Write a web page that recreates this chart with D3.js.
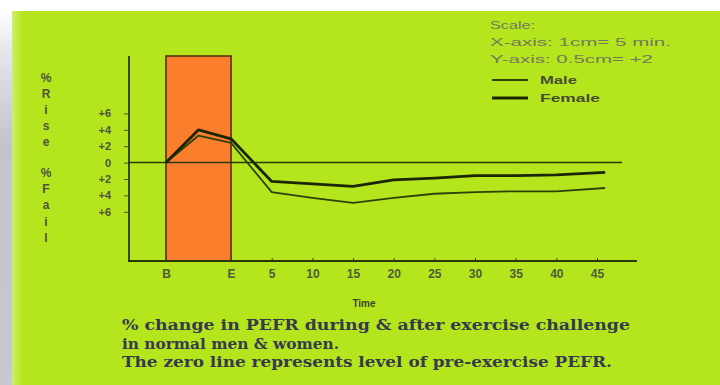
<!DOCTYPE html>
<html>
<head>
    <meta charset="utf-8">
    <title>PEFR change</title>
    <script type="text/javascript" src="https://cdn.jsdelivr.net/npm/d3@7"></script>
    <style>
        body { margin: 0; background: #fff; }
        svg { display: block; }
    </style>
</head>

<body>

<script type="text/javascript">

    // time in minutes: B = start of exercise, E = end of exercise
    var times = [-8, -4, 0, 5, 10, 15, 20, 25, 30, 35, 40, 46];
    var female = [0, 4.0, 2.9, -2.3, -2.6, -2.9, -2.1, -1.9, -1.6, -1.6, -1.5, -1.2];
    var male = [0, 3.3, 2.4, -3.6, -4.3, -4.9, -4.3, -3.8, -3.6, -3.5, -3.5, -3.1];

    var xTickValues = [-8, 0, 5, 10, 15, 20, 25, 30, 35, 40, 45];
    var xTickLabels = ["B", "E", "5", "10", "15", "20", "25", "30", "35", "40", "45"];
    var yTickValues = [6, 4, 2, 0, -2, -4, -6];
    var yTickLabels = ["+6", "+4", "+2", "0", "+2", "+4", "+6"];

    var exercise = [-8, 0]; // shaded B..E

    var scaleText = ["Scale:", "X-axis: 1cm= 5 min.", "Y-axis: 0.5cm= +2"];
    var captionLines = [
        "% change in PEFR during & after exercise challenge",
        "in normal men & women.",
        "The zero line represents level of pre-exercise PEFR."
    ];

    var width = 720,
        height = 385,
        axisLeft = 129,
        axisRight = 637,
        zeroRight = 622;

    var x = d3.scaleLinear()
        .domain([-8, 45])
        .range([166, 597]);

    var y = d3.scaleLinear()
        .domain([-12, 13])
        .range([261, 56]);

    var svg = d3.select("body").append("svg")
        .attr("width", width)
        .attr("height", height);

    var defs = svg.append("defs");
    var side = defs.append("linearGradient").attr("id", "side")
        .attr("x1", 0).attr("y1", 0).attr("x2", 0).attr("y2", 1);
    side.append("stop").attr("offset", "0").attr("stop-color", "#ffffff");
    side.append("stop").attr("offset", "0.12").attr("stop-color", "#e4e4ea");
    side.append("stop").attr("offset", "0.35").attr("stop-color", "#c4c4cc");
    side.append("stop").attr("offset", "1").attr("stop-color", "#c8c8d0");

    var glow = defs.append("linearGradient").attr("id", "glow")
        .attr("x1", 0).attr("y1", 0).attr("x2", 1).attr("y2", 0);
    glow.append("stop").attr("offset", "0").attr("stop-color", "#ffffff").attr("stop-opacity", 0.35);
    glow.append("stop").attr("offset", "1").attr("stop-color", "#ffffff").attr("stop-opacity", 0);

    // background
    svg.append("rect").attr("width", width).attr("height", height).attr("fill", "#ffffff");
    svg.append("rect").attr("x", 0).attr("y", 10).attr("width", 12).attr("height", height - 10)
        .attr("fill", "url(#side)");
    svg.append("rect").attr("x", 12).attr("y", 11).attr("width", width - 12).attr("height", height - 11)
        .attr("fill", "#b5e61d");
    svg.append("rect").attr("x", 12).attr("y", 11).attr("width", 10).attr("height", height - 11)
        .attr("fill", "url(#glow)");

    // exercise period box
    svg.append("rect")
        .attr("x", x(exercise[0]))
        .attr("y", y(13))
        .attr("width", x(exercise[1]) - x(exercise[0]))
        .attr("height", y(-12) - y(13))
        .attr("fill", "#fb7e2c")
        .attr("stroke", "#4a2a10")
        .attr("stroke-width", 1.5);

    // axes
    var xAxis = d3.axisBottom(x)
        .tickValues(xTickValues)
        .tickSize(-3)
        .tickPadding(8)
        .tickFormat(function(d, i){ return xTickLabels[i]; });

    var gx = svg.append("g")
        .attr("transform", "translate(0," + y(-12) + ")")
        .call(xAxis);
    gx.select(".domain").remove();
    gx.selectAll(".tick line").attr("stroke", "#3a4a10");
    gx.selectAll(".tick text")
        .attr("fill", "#505a3a")
        .attr("font-family", "Liberation Sans, Arial, sans-serif")
        .attr("font-size", 12)
        .attr("font-weight", "bold");

    var yAxis = d3.axisLeft(y)
        .tickValues(yTickValues)
        .tickSize(5)
        .tickPadding(13)
        .tickFormat(function(d, i){ return yTickLabels[i]; });

    var gy = svg.append("g")
        .attr("transform", "translate(" + axisLeft + ",0)")
        .call(yAxis);
    gy.select(".domain").remove();
    gy.selectAll(".tick line").attr("stroke", "#4a5236");
    gy.selectAll(".tick text")
        .attr("fill", "#4e5040")
        .attr("font-family", "Liberation Sans, Arial, sans-serif")
        .attr("font-size", 11)
        .attr("font-weight", "bold");

    svg.append("line")
        .attr("x1", axisLeft).attr("x2", axisLeft)
        .attr("y1", y(13)).attr("y2", y(-12))
        .attr("stroke", "#2a3408").attr("stroke-width", 1.8);
    svg.append("line")
        .attr("x1", axisLeft - 1).attr("x2", axisRight)
        .attr("y1", y(-12)).attr("y2", y(-12))
        .attr("stroke", "#2a3408").attr("stroke-width", 1.8);

    // zero line
    svg.append("line")
        .attr("x1", axisLeft).attr("x2", zeroRight)
        .attr("y1", y(0)).attr("y2", y(0))
        .attr("stroke", "#2a3a08").attr("stroke-width", 1.5);

    // series
    var line = d3.line()
        .x(function(d){ return x(d.t); })
        .y(function(d){ return y(d.v); });

    var series = [
        {name: "Male", values: male, width: 1.8, color: "#2c420a"},
        {name: "Female", values: female, width: 2.8, color: "#1c2604"}
    ];

    svg.selectAll("path.series")
        .data(series)
        .enter()
        .append("path")
        .attr("class", "series")
        .attr("fill", "none")
        .attr("stroke", function(d){ return d.color; })
        .attr("stroke-width", function(d){ return d.width; })
        .attr("stroke-linejoin", "round")
        .attr("d", function(d){
            return line(d.values.map(function(v, i){ return {t: times[i], v: v}; }));
        });

    // y axis label (vertical letters)
    var rise = ["%", "R", "i", "s", "e"];
    var fall = ["%", "F", "a", "i", "l"];
    var letters = svg.append("g")
        .attr("font-family", "Liberation Sans, Arial, sans-serif")
        .attr("font-size", 12)
        .attr("font-weight", "bold")
        .attr("fill", "#50523e")
        .attr("text-anchor", "middle");
    rise.forEach(function(c, i){
        letters.append("text").attr("x", 46).attr("y", 82 + i * 16).text(c);
    });
    fall.forEach(function(c, i){
        letters.append("text").attr("x", 46).attr("y", 177 + i * 16.2).text(c);
    });

    // x axis title
    svg.append("text")
        .attr("x", 364).attr("y", 307)
        .attr("text-anchor", "middle")
        .attr("font-family", "Liberation Sans, Arial, sans-serif")
        .attr("font-size", 10)
        .attr("font-weight", "bold")
        .attr("fill", "#3e4430")
        .text("Time");

    // scale note + legend
    var scaleWidths = [45, 181, 163];
    scaleText.forEach(function(t, i){
        svg.append("text")
            .attr("x", 490).attr("y", 29 + i * 17)
            .attr("font-family", "Liberation Sans, Arial, sans-serif")
            .attr("font-size", 11)
            .attr("fill", "#74785c")
            .attr("textLength", scaleWidths[i])
            .attr("lengthAdjust", "spacingAndGlyphs")
            .text(t);
    });

    var legendWidths = [37, 60];
    series.forEach(function(s, i){
        var ly = 80 + i * 18;
        svg.append("line")
            .attr("x1", 492).attr("x2", 528)
            .attr("y1", ly).attr("y2", ly)
            .attr("stroke", s.color)
            .attr("stroke-width", s.width);
        svg.append("text")
            .attr("x", 540).attr("y", ly + 4)
            .attr("font-family", "Liberation Sans, Arial, sans-serif")
            .attr("font-size", 11)
            .attr("font-weight", "bold")
            .attr("fill", "#464c36")
            .attr("textLength", legendWidths[i])
            .attr("lengthAdjust", "spacingAndGlyphs")
            .text(s.name);
    });

    // caption
    var captionWidths = [508, 217, 490];
    captionLines.forEach(function(t, i){
        svg.append("text")
            .attr("x", 122).attr("y", 330 + i * 18.5)
            .attr("font-family", "DejaVu Serif, Liberation Serif, serif")
            .attr("font-size", 14)
            .attr("font-weight", "bold")
            .attr("fill", "#363a4c")
            .attr("textLength", captionWidths[i])
            .attr("lengthAdjust", "spacingAndGlyphs")
            .text(t);
    });
</script>

</body>

</html>
